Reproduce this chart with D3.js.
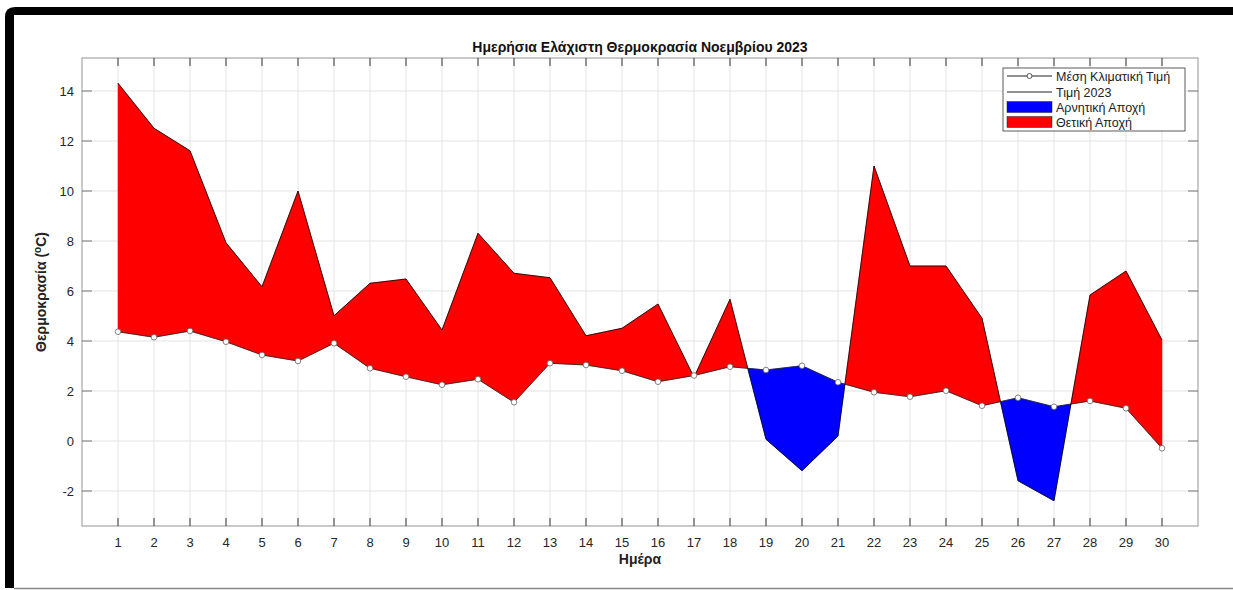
<!DOCTYPE html>
<html><head><meta charset="utf-8">
<script src="https://cdn.jsdelivr.net/npm/d3@7"></script>
<style>body{margin:0;background:#fff}svg{display:block;font-family:Arial,"Liberation Sans",sans-serif}</style>
</head><body><svg id="c" width="1233" height="590"></svg>
<script>
const days = d3.range(1, 31);
const climate = [4.37,4.15,4.40,3.97,3.44,3.20,3.91,2.91,2.57,2.25,2.47,1.55,3.11,3.04,2.81,2.37,2.62,2.97,2.84,3.01,2.35,1.95,1.77,2.01,1.41,1.73,1.37,1.60,1.31,-0.29];
const value2023 = [14.31,12.51,11.61,7.93,6.17,10.0,5.01,6.31,6.48,4.44,8.31,6.71,6.53,4.21,4.51,5.48,2.55,5.67,0.07,-1.19,0.20,11.0,7.0,7.0,4.91,-1.59,-2.39,5.84,6.8,4.04];
const yTicks = [-2,0,2,4,6,8,10,12,14];
const title = "Ημερήσια Ελάχιστη Θερμοκρασία Νοεμβρίου 2023";
const xTitle = "Ημέρα";
const legendLabels = ["Μέση Κλιματική Τιμή","Τιμή 2023","Αρνητική Αποχή","Θετική Αποχή"];

const svg = d3.select("#c");
const L=82, R=1198, T=58, B=526;
const x = d3.scaleLinear().domain([0,31]).range([L,R]);
const y = d3.scaleLinear().domain([-3.4,15.32]).range([B,T]);

// frame
svg.append("path").attr("d","M5,588 L5,17 Q5,7 15,7 L1233,7 L1233,15 L14,15 L14,588 Z").attr("fill","#000");
svg.append("line").attr("x1",14).attr("x2",1233).attr("y1",588.5).attr("y2",588.5).attr("stroke","#888").attr("stroke-width",1.5);

// grid
const g = svg.append("g");
g.selectAll(".gx").data(days).join("line").attr("x1",d=>x(d)).attr("x2",d=>x(d)).attr("y1",T).attr("y2",B).attr("stroke","#e3e3e3");
g.selectAll(".gy").data(yTicks).join("line").attr("y1",d=>y(d)).attr("y2",d=>y(d)).attr("x1",L).attr("x2",R).attr("stroke","#e3e3e3");

// fills
const pts = days.map((d,i)=>({x:d,v:value2023[i],c:climate[i],s:Math.sign(value2023[i]-climate[i])}));
const runs=[]; let cur=null;
for(let i=0;i<pts.length;i++){
  const p=pts[i];
  if(!cur){cur={s:p.s||1,pts:[p]};continue;}
  const q=pts[i-1];
  const dq=q.v-q.c, dp=p.v-p.c;
  if(dq*dp<0){
    const t=dq/(dq-dp);
    const xc=q.x+t*(p.x-q.x), vc=q.v+t*(p.v-q.v);
    const cp={x:xc,v:vc,c:vc};
    cur.pts.push(cp); runs.push(cur);
    cur={s:Math.sign(dp),pts:[cp,p]};
  } else cur.pts.push(p);
}
runs.push(cur);
const area = d3.area().x(d=>x(d.x)).y0(d=>y(d.c)).y1(d=>y(d.v));
svg.append("g").selectAll("path").data(runs).join("path")
  .attr("d",r=>area(r.pts)).attr("fill",r=>r.s>=0?"#ff0000":"#0000ff").attr("stroke",r=>r.s>=0?"#ff0000":"#0000ff").attr("stroke-width",0.5);

// lines
const lineV = d3.line().x((d,i)=>x(days[i])).y(d=>y(d));
svg.append("path").attr("d",lineV(value2023)).attr("fill","none").attr("stroke","#000").attr("stroke-width",0.8);
svg.append("path").attr("d",lineV(climate)).attr("fill","none").attr("stroke","#222").attr("stroke-width",0.8);
svg.append("g").selectAll("circle").data(climate).join("circle")
  .attr("cx",(d,i)=>x(days[i])).attr("cy",d=>y(d)).attr("r",2.8).attr("fill","#fff").attr("stroke","#666").attr("stroke-width",0.8);

// axes box
svg.append("rect").attr("x",L).attr("y",T).attr("width",R-L).attr("height",B-T).attr("fill","none").attr("stroke","#a6a6a6").attr("stroke-width",1.2);
const ax = svg.append("g");
ax.selectAll(".tb").data(days).join("line").attr("x1",d=>x(d)).attr("x2",d=>x(d)).attr("y1",B).attr("y2",B-8).attr("stroke","#333");
ax.selectAll(".tt").data(days).join("line").attr("x1",d=>x(d)).attr("x2",d=>x(d)).attr("y1",T).attr("y2",T+8).attr("stroke","#333");
ax.selectAll(".tl").data(yTicks).join("line").attr("y1",d=>y(d)).attr("y2",d=>y(d)).attr("x1",L).attr("x2",L+10).attr("stroke","#777");
ax.selectAll(".tr").data(yTicks).join("line").attr("y1",d=>y(d)).attr("y2",d=>y(d)).attr("x1",R).attr("x2",R-10).attr("stroke","#777");
ax.selectAll(".xl").data(days).join("text").attr("x",d=>x(d)).attr("y",547).attr("text-anchor","middle").attr("font-size",13).attr("fill","#262626").text(d=>d);
ax.selectAll(".yl").data(yTicks).join("text").attr("x",74).attr("y",d=>y(d)+5).attr("text-anchor","end").attr("font-size",13).attr("fill","#262626").text(d=>d);

// titles
svg.append("text").attr("x",640).attr("y",52).attr("text-anchor","middle").attr("font-size",14).attr("font-weight","bold").attr("fill","#111").text(title);
svg.append("text").attr("x",640).attr("y",564).attr("text-anchor","middle").attr("font-size",14).attr("font-weight","bold").attr("fill","#222").text(xTitle);
const yt = svg.append("text").attr("transform","translate(46,292) rotate(-90)").attr("text-anchor","middle").attr("font-size",14).attr("font-weight","bold").attr("fill","#222");
yt.append("tspan").text("Θερμοκρασία (");
yt.append("tspan").attr("dy",-5).attr("font-size",10).text("o");
yt.append("tspan").attr("dy",5).text("C)");

// legend
const lg = svg.append("g");
lg.append("rect").attr("x",1003).attr("y",68).attr("width",182).attr("height",63).attr("fill","#fff").attr("stroke","#333").attr("stroke-width",0.8);
const rowsY=[76,92,107,122];
lg.append("line").attr("x1",1007).attr("x2",1052).attr("y1",rowsY[0]).attr("y2",rowsY[0]).attr("stroke","#222");
lg.append("circle").attr("cx",1029.5).attr("cy",rowsY[0]).attr("r",2.5).attr("fill","#fff").attr("stroke","#555");
lg.append("line").attr("x1",1007).attr("x2",1052).attr("y1",rowsY[1]).attr("y2",rowsY[1]).attr("stroke","#222");
lg.append("rect").attr("x",1007).attr("y",rowsY[2]-5.5).attr("width",45).attr("height",11).attr("fill","#0000ff").attr("stroke","#222").attr("stroke-width",0.5);
lg.append("rect").attr("x",1007).attr("y",rowsY[3]-5.5).attr("width",45).attr("height",11).attr("fill","#ff0000").attr("stroke","#222").attr("stroke-width",0.5);
lg.selectAll("text").data(legendLabels).join("text").attr("x",1056).attr("y",(d,i)=>rowsY[i]+4.5).attr("font-size",12.5).attr("fill","#222").text(d=>d);
</script></body></html>
